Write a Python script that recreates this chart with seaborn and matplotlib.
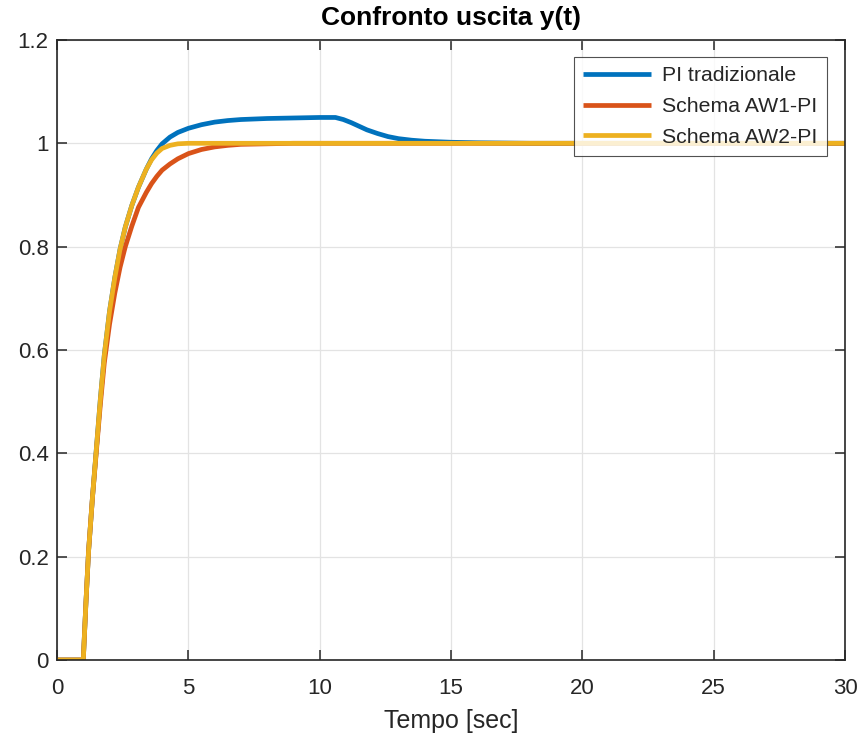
import matplotlib
matplotlib.use("Agg")
import matplotlib.pyplot as plt
import numpy as np
import pandas as pd
import seaborn as sns

# values
tempo = [0, 1.0, 1.1, 1.2, 1.35, 1.5, 1.65, 1.8, 2.0, 2.2, 2.4, 2.6, 2.85, 3.1,
         3.4, 3.6, 3.8, 4.0, 4.3, 4.6, 5.0, 5.5, 6.0, 6.5, 7.0, 8.0, 9.0, 10.0,
         10.6, 10.9, 11.2, 11.5, 11.8, 12.2, 12.6, 13.0, 13.5, 14.0, 15.0, 16.0,
         18.0, 30.0]

pi_tradizionale = [0, 0, 0.11, 0.21, 0.315, 0.41, 0.505, 0.59, 0.675, 0.74, 0.795,
                   0.838, 0.88, 0.915, 0.95, 0.970, 0.986, 0.999, 1.012, 1.021, 1.029,
                   1.036, 1.041, 1.044, 1.046, 1.048, 1.049, 1.050, 1.050, 1.046,
                   1.040, 1.033, 1.026, 1.019, 1.013, 1.009, 1.006, 1.004, 1.002,
                   1.001, 1.0, 1.0]

schema_aw1 = [0, 0, 0.11, 0.21, 0.315, 0.405, 0.495, 0.575, 0.65, 0.71, 0.76,
              0.80, 0.84, 0.876, 0.905, 0.922, 0.936, 0.948, 0.960, 0.970, 0.980,
              0.988, 0.993, 0.996, 0.998, 0.999, 1.0, 1.0, 1.0, 1.0,
              1.0, 1.0, 1.0, 1.0, 1.0, 1.0, 1.0, 1.0, 1.0,
              1.0, 1.0, 1.0]

schema_aw2 = [0, 0, 0.11, 0.21, 0.315, 0.41, 0.505, 0.59, 0.675, 0.74, 0.795,
              0.838, 0.88, 0.915, 0.95, 0.968, 0.981, 0.990, 0.996, 0.999, 1.0,
              1.0, 1.0, 1.0, 1.0, 1.0, 1.0, 1.0, 1.0, 1.0,
              1.0, 1.0, 1.0, 1.0, 1.0, 1.0, 1.0, 1.0, 1.0,
              1.0, 1.0, 1.0]

labels = ["PI tradizionale", "Schema AW1-PI", "Schema AW2-PI"]
colors = ["#0072BD", "#D95319", "#EDB120"]

df = pd.concat([
    pd.DataFrame({"t": tempo, "y": vals, "serie": lab})
    for lab, vals in zip(labels, [pi_tradizionale, schema_aw1, schema_aw2])
], ignore_index=True)

sns.set_theme(style="white")
plt.rcParams["font.family"] = ["Liberation Sans", "DejaVu Sans"]

fig = plt.figure(figsize=(8.6, 7.36), dpi=100)
ax = fig.add_axes([0.0663, 0.1033, 0.9163, 0.8424])

sns.lineplot(data=df, x="t", y="y", hue="serie", hue_order=labels,
             palette=colors, linewidth=3.4, sort=False, estimator=None, ax=ax)

ax.set_xlim(0, 30)
ax.set_ylim(0, 1.2)
ax.set_xticks(np.arange(0, 31, 5))
ax.set_yticks(np.arange(0, 1.21, 0.2))
ax.set_xticklabels(["0", "5", "10", "15", "20", "25", "30"])
ax.set_yticklabels(["0", "0.2", "0.4", "0.6", "0.8", "1", "1.2"])
ax.tick_params(direction="in", length=7, width=1.1, bottom=True, left=True,
               top=True, right=True, labelsize=16, colors="#262626")
ax.tick_params(axis="x", pad=13)
ax.tick_params(axis="y", pad=6)
ax.grid(True, color="#e3e3e3", linewidth=0.9)
ax.set_axisbelow(True)
for s in ax.spines.values():
    s.set_color("#262626")
    s.set_linewidth(1.2)

ax.set_xlabel("Tempo [sec]", fontsize=18, color="#262626", labelpad=7)
ax.set_ylabel("")
ax.set_title("Confronto uscita y(t)", fontsize=19, fontweight="bold",
             color="black", pad=11)

leg = ax.legend(loc="upper right", bbox_to_anchor=(0.977, 0.973), fontsize=15.3,
                frameon=True, fancybox=False, handlelength=3.2, borderpad=0.45,
                labelspacing=0.55, handletextpad=0.5, borderaxespad=0)
leg.get_frame().set_edgecolor("#262626")
leg.get_frame().set_linewidth(0.8)
for line in leg.get_lines():
    line.set_linewidth(3.4)
    line.set_solid_capstyle("butt")

fig.savefig("out.png", dpi=100)
